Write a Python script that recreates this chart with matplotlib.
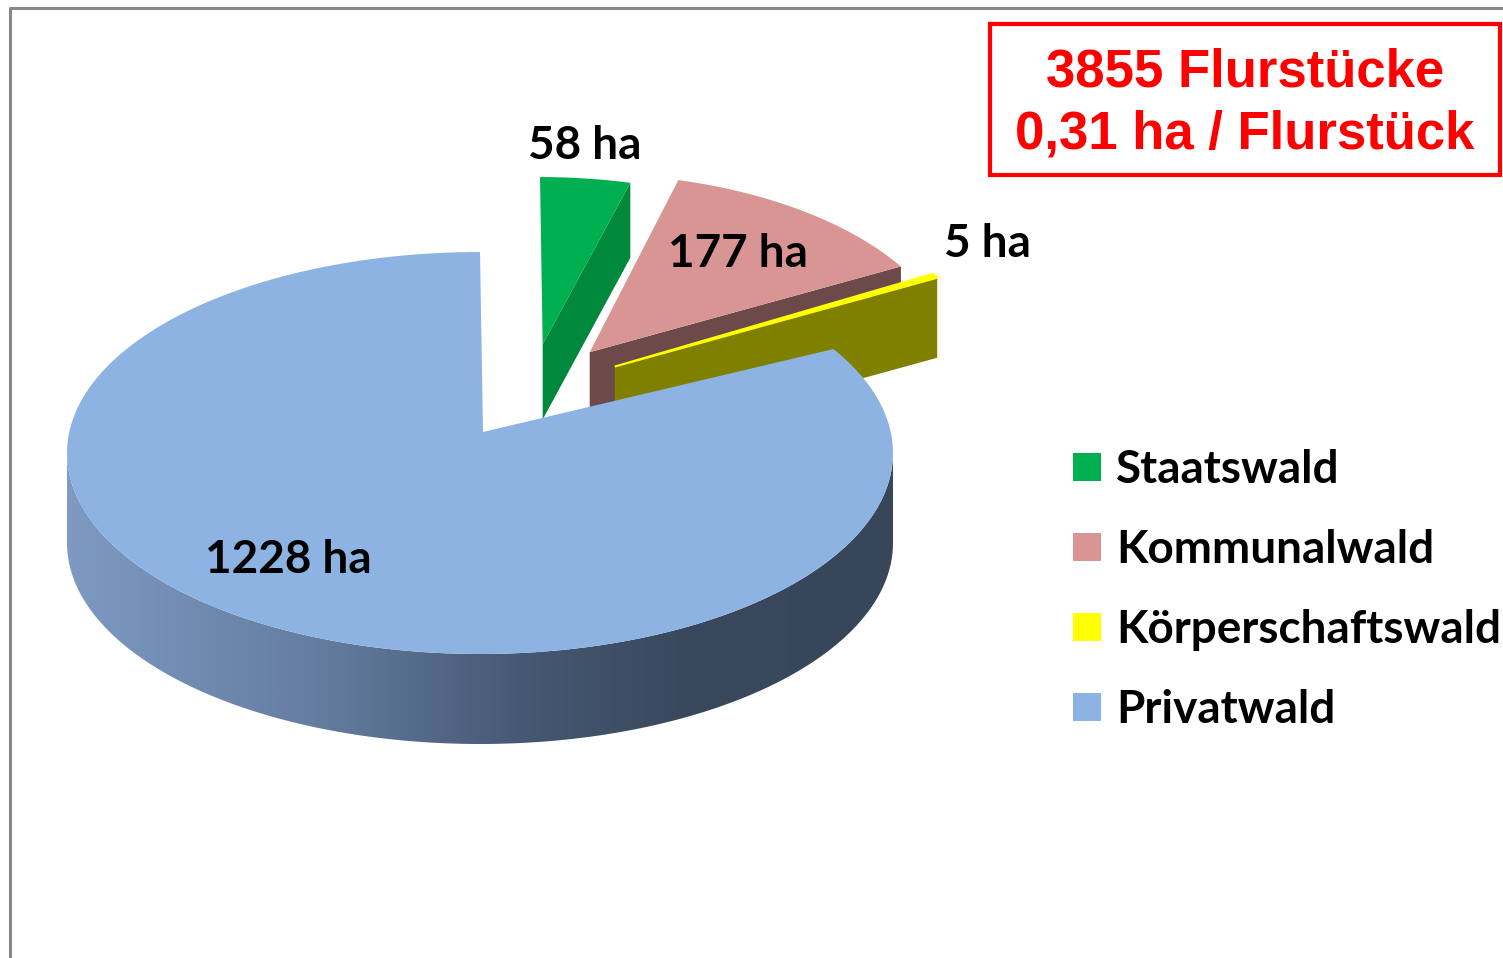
import numpy as np
import matplotlib.pyplot as plt
from matplotlib.patches import Polygon, Rectangle
from matplotlib.colors import LinearSegmentedColormap

# Daten
kategorien = ['Staatswald', 'Kommunalwald', 'Körperschaftswald', 'Privatwald']
flaeche_ha = np.array([58, 177, 5, 1228])
farben_oben = ['#00B050', '#D99594', '#FFFF00', '#8DB3E2']
farben_seite = ['#00883D', '#6B4A49', '#808000', None]
box_text = ['3855 Flurstücke', '0,31 ha / Flurstück']

# Layout (Pixel)
CX, CY, RX, RY = 480, 453, 413, 201
APEX = (3, -21)
explode = [(60, -89), (107, -80), (132, -64), (0, 0)]
skala = [(0.89, 0.93), (0.9, 0.99), (0.92, 1.07), (1.0, 1.0)]
tiefe = [75, 75, 80, 90]
label_pos = [(585, 146), (738, 254), (987, 244), (288, 560)]

anteil = flaeche_ha / flaeche_ha.sum() * 360
ende = np.cumsum(anteil)
start = ende - anteil


def rand(th, cx, cy, rx, ry, dz=0):
    t = np.radians(th)
    return np.column_stack([cx + rx * np.sin(t), cy - ry * np.cos(t) + dz])


fig = plt.figure(figsize=(15.03, 9.58), dpi=100)
ax = fig.add_axes([0, 0, 1, 1])

for i in range(4):
    dx, dy = explode[i]
    sx, sy = skala[i]
    cx, cy = CX + dx, CY + dy
    rx, ry = RX * sx, RY * sy
    ax_, ay_ = cx + APEX[0] * sx, cy + APEX[1] * sy
    d = tiefe[i]
    th = np.linspace(start[i], ende[i], 200)
    z = 2 * i + 1
    if farben_seite[i] is not None:
        # Schnittflaeche am Ende des Segments
        r0 = rand(ende[i], cx, cy, rx, ry)[0]
        seite = [(ax_, ay_), tuple(r0), (r0[0], r0[1] + d), (ax_, ay_ + d)]
        ax.add_patch(Polygon(seite, closed=True, fc=farben_seite[i], ec='none', zorder=z))
    else:
        # Mantel mit Verlauf (vorne sichtbar)
        tw = np.linspace(90, 270, 200)
        oben = rand(tw, cx, cy, rx, ry)
        unten = rand(tw[::-1], cx, cy, rx, ry, d)
        wand = Polygon(np.vstack([oben, unten]), closed=True, fc='none', ec='none', zorder=z)
        ax.add_patch(wand)
        cmap = LinearSegmentedColormap.from_list('wand', [
            (0.0, (126/255, 154/255, 194/255)),
            (0.3, (100/255, 125/255, 160/255)),
            (0.55, (70/255, 88/255, 116/255)),
            (0.75, (58/255, 72/255, 93/255)),
            (1.0, (56/255, 70/255, 90/255))])
        grad = np.linspace(0, 1, 256)[None, :]
        im = ax.imshow(grad, extent=(cx - rx, cx + rx, cy + ry + d + 5, cy - 5),
                       cmap=cmap, aspect='auto', zorder=z, interpolation='bilinear')
        im.set_clip_path(wand)
    oben = np.vstack([[ax_, ay_], rand(th, cx, cy, rx, ry)])
    lw = 1.5 if flaeche_ha[i] < 20 else 0
    ax.add_patch(Polygon(oben, closed=True, fc=farben_oben[i], ec=farben_oben[i],
                         lw=lw, zorder=z + 1))

# Datenbeschriftungen
for i, (x, y) in enumerate(label_pos):
    ax.text(x, y, f'{flaeche_ha[i]} ha', ha='center', va='center', fontsize=33,
            fontweight='bold', family='Lato', color='black', zorder=20)

# Legende
for i, name in enumerate(kategorien):
    y = 467 + 80 * i
    ax.add_patch(Rectangle((1073, y - 14), 28, 28, fc=farben_oben[i], ec='none', zorder=20))
    ax.text(1116, y + 3, name, ha='left', va='center', fontsize=33, fontweight='bold',
            family='Lato', color='black', zorder=20)

# Textfeld
ax.add_patch(Rectangle((990, 24), 510, 151, fc='white', ec='#FF0000', lw=3, zorder=20))
for k, t in enumerate(box_text):
    ax.text(1245, 72 + 62 * k, t, ha='center', va='center', fontsize=38, fontweight='bold',
            family='Liberation Sans', color='#FF0000', zorder=21)

# Rahmen
ax.plot([10, 10, 1503], [958, 8, 8], color='#888888', lw=2.2, zorder=30)

ax.set_xlim(0, 1503)
ax.set_ylim(958, 0)
ax.axis('off')
fig.savefig('out.png', dpi=100)
